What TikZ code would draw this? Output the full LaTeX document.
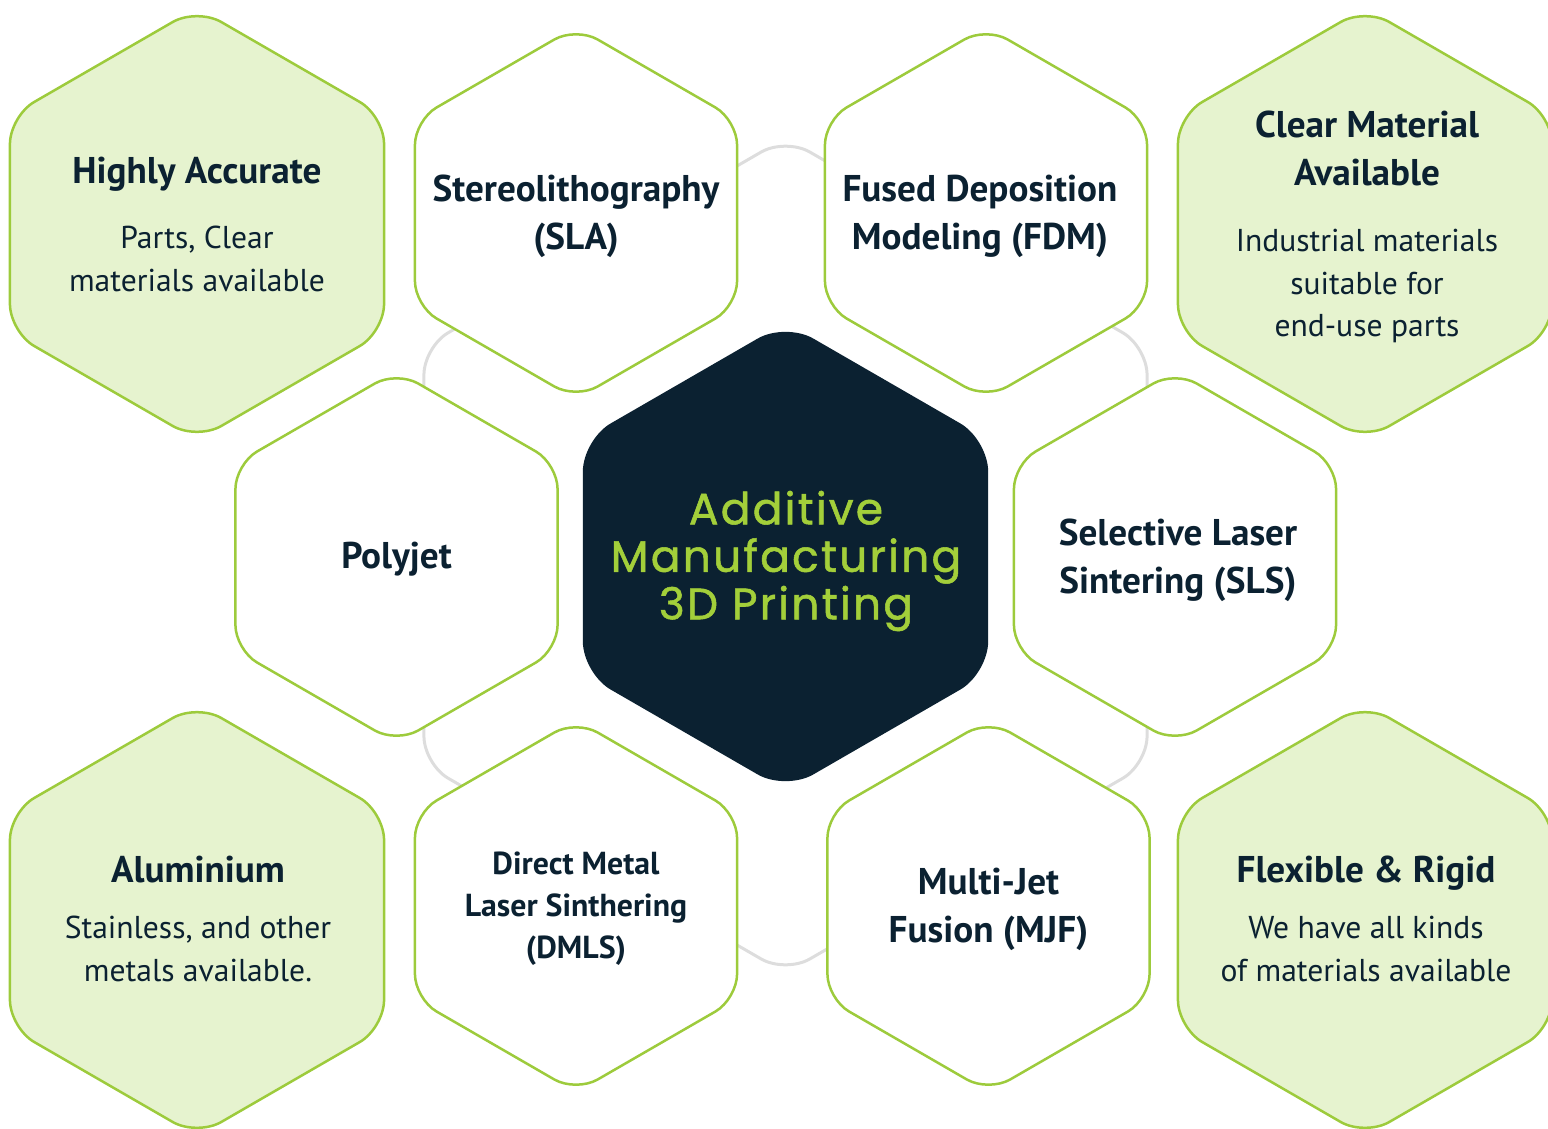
\documentclass[tikz,border=0pt]{standalone}
\usepackage{fontspec}
\setmainfont{PT Sans}
\newfontfamily\hubfont{Poppins}[LetterSpace=5, FakeBold=1.2]
\usetikzlibrary{shapes.geometric}

\definecolor{navy}{HTML}{0B2131}
\definecolor{lime}{HTML}{9DCB3C}
\definecolor{hubgreen}{HTML}{A3CF3A}
\definecolor{mint}{HTML}{E6F3CF}
\definecolor{ringgray}{HTML}{DDDDDD}

\tikzset{
	hex/.style={regular polygon, regular polygon sides=6, shape border rotate=30, inner sep=0pt, outer sep=0pt},
	hexw/.style={hex, draw=lime, line width=2.5pt, fill=white, minimum size=372pt, rounded corners=25pt},
	hexg/.style={hex, draw=lime, line width=2.5pt, fill=mint, minimum size=432pt, rounded corners=28pt},
	hexhub/.style={hex, fill=navy, minimum size=468pt, rounded corners=32pt},
	hexring/.style={hex, draw=ringgray, line width=3pt, minimum size=835pt, rounded corners=28pt},
	head/.style={text=navy, align=center, font=\fontsize{37.2}{48}\selectfont\bfseries},
	headsm/.style={text=navy, align=center, font=\fontsize{31.8}{42}\selectfont\bfseries},
	note/.style={text=navy, align=center, font=\fontsize{31.6}{42.7}\selectfont},
}

\begin{document}
\begin{tikzpicture}[x=1pt, y=-1pt]
	\useasboundingbox (0,0) rectangle (1548,1129);

	% grey ring behind the cells
	\node [hexring] (ring) at (785.5,555.5) {};

	% process cells
	\node [hexw] (sla) at (576,213) {};
	\node [hexw] (fdm) at (986,213) {};
	\node [hexw] (polyjet) at (396.5,557) {};
	\node [hexw] (sls) at (1175,557) {};
	\node [hexw] (dmls) at (576,906) {};
	\node [hexw] (mjf) at (988.5,906) {};

	% material cells
	\node [hexg] (accurate) at (197,224) {};
	\node [hexg] (clear) at (1365,224) {};
	\node [hexg] (alu) at (197,920) {};
	\node [hexg] (flex) at (1365,920) {};

	% hub
	\node [hexhub] (hub) at (785.5,556.5) {};
	\node [text=hubgreen, align=center, font=\hubfont\fontsize{44}{47.5}\selectfont] (hub-t) at (786,561)
		{Additive\\Manufacturing\\3D Printing};

	\node [head] (sla-t) at (576,216) {Stereolithography\\(SLA)};
	\node [head] (fdm-t) at (980,216) {Fused Deposition\\Modeling (FDM)};
	\node [head] (polyjet-t) at (396.5,559) {Polyjet};
	\node [head] (sls-t) at (1178,560) {Selective Laser\\Sintering (SLS)};
	\node [headsm] (dmls-t) at (576,909) {Direct Metal\\Laser Sinthering\\(DMLS)};
	\node [head] (mjf-t) at (988.5,909) {Multi-Jet\\Fusion (MJF)};

	\node [head] (accurate-t) at (197,174) {Highly Accurate};
	\node [note] (accurate-b) at (197,259) {Parts, Clear\\materials available};
	\node [head] (clear-t) at (1367,148) {Clear Material\\Available};
	\node [note] (clear-b) at (1367,286) {Industrial materials\\suitable for\\end-use parts};
	\node [head] (alu-t) at (198,870) {Aluminium};
	\node [note] (alu-b) at (198,949) {Stainless, and other\\metals available.};
	\node [head] (flex-t) at (1366,873) {Flexible \& Rigid};
	\node [note] (flex-b) at (1366,949) {We have all kinds\\of materials available};
\end{tikzpicture}
\end{document}
